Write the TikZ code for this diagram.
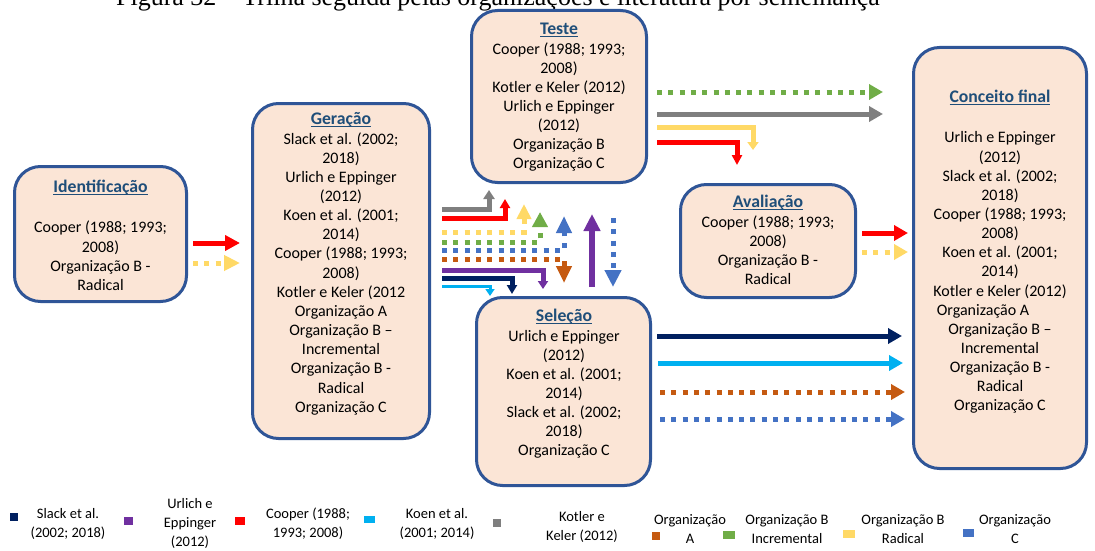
\documentclass[tikz,border=0pt]{standalone}
\usepackage{fontspec}
\setmainfont{Carlito}
\newfontfamily\capfont{Liberation Serif}
\usetikzlibrary{arrows.meta}

\definecolor{boxfill}{HTML}{FBE5D6}
\definecolor{boxline}{HTML}{2F5597}
\definecolor{titleblue}{HTML}{1F4E79}
\definecolor{cNavy}{HTML}{002060}
\definecolor{cPurple}{HTML}{7030A0}
\definecolor{cRed}{HTML}{FF0000}
\definecolor{cSky}{HTML}{00B0F0}
\definecolor{cGray}{HTML}{7F7F7F}
\definecolor{cOrange}{HTML}{C55A11}
\definecolor{cGreen}{HTML}{70AD47}
\definecolor{cYellow}{HTML}{FFD966}
\definecolor{cBlue}{HTML}{4472C4}

% stage title: bold, dark blue, with a rule just under the baseline
\newsavebox\titlebox
\newcommand\stagetitle[1]{{\fontsize{17.7}{19.15}\selectfont\bfseries\color{titleblue}\strut
  \sbox\titlebox{#1}\rlap{\rule[-2.4pt]{\wd\titlebox}{1.1pt}}\usebox\titlebox}}

\begin{document}
\begin{tikzpicture}[x=1pt,y=-1pt,
  stage/.style={draw=boxline, line width=3pt, fill=boxfill, rounded corners=26pt, inner sep=0pt},
  stagetext/.style={anchor=north, align=center, inner sep=0pt, font=\fontsize{16}{19.15}\selectfont},
  flow/.style={line width=5pt, line cap=butt, line join=miter},
  tip/.style 2 args={-{Triangle[length=#1pt,width=#2pt]}},
  dots/.style={dash pattern=on 5pt off 6.3pt},
  legtext/.style={align=center, inner sep=0pt, font=\fontsize{14.5}{19}\selectfont},
  key/.style={inner sep=0pt, minimum height=8pt},
]
\clip (0,0) rectangle (1095,551);

% caption, cut off by the page top
\node[anchor=base, inner sep=0pt, font=\capfont\fontsize{26}{30}\selectfont] (caption) at (498,6)
  {Figura 32 – Trilha seguida pelas organizações e literatura por semelhança};

% ---------- stages ----------
\node[stage, minimum width=172pt, minimum height=135pt] (ident) at (100.5,234) {};
\node[stage, minimum width=177pt, minimum height=335pt] (gen) at (341,271) {};
\node[stage, minimum width=175pt, minimum height=172pt] (teste) at (559,96.5) {};
\node[stage, minimum width=175pt, minimum height=113pt] (aval) at (768,241) {};
\node[stage, minimum width=174pt, minimum height=188pt] (sel) at (563.5,391.5) {};
\node[stage, minimum width=173pt, minimum height=421pt] (conc) at (1000,258) {};

\node[stagetext] (identtxt) at (100.5,179.3) {\stagetitle{Identificação}\\[20.8pt]
  Cooper (1988; 1993;\\ 2008)\\ Organização B -\\ Radical};
\node[stagetext] (gentxt) at (341,111.3) {\stagetitle{Geração}\\
  Slack et al. (2002;\\ 2018)\\ Urlich e Eppinger\\ (2012)\\ Koen et al. (2001;\\ 2014)\\
  Cooper (1988; 1993;\\ 2008)\\ Kotler e Keler (2012\\ Organização A\\ Organização B –\\
  Incremental\\ Organização B -\\ Radical\\ Organização C};
\node[stagetext] (testetxt) at (559,21.3) {\stagetitle{Teste}\\
  Cooper (1988; 1993;\\ 2008)\\ Kotler e Keler (2012)\\ Urlich e Eppinger\\ (2012)\\
  Organização B\\ Organização C};
\node[stagetext] (avaltxt) at (768,194.3) {\stagetitle{Avaliação}\\
  Cooper (1988; 1993;\\ 2008)\\ Organização B -\\ Radical};
\node[stagetext] (seltxt) at (564,308.3) {\stagetitle{Seleção}\\
  Urlich e Eppinger\\ (2012)\\ Koen et al. (2001;\\ 2014)\\ Slack et al. (2002;\\ 2018)\\
  Organização C};
\node[stagetext] (conctxt) at (1000,89.3) {\stagetitle{Conceito final}\\[20.8pt]
  Urlich e Eppinger\\ (2012)\\ Slack et al. (2002;\\ 2018)\\ Cooper (1988; 1993;\\ 2008)\\
  Koen et al. (2001;\\ 2014)\\ Kotler e Keler (2012)\\ Organização A\rule{34pt}{0pt}\\
  Organização B –\\ Incremental\\ Organização B -\\ Radical\\ Organização C};

% ---------- arrow end points ----------
% Identificação -> Geração
\coordinate (a1) at (193,243); \coordinate (b1) at (240,243);
\coordinate (a2) at (193,263); \coordinate (b2) at (240,263);
% Geração -> Teste / Seleção
\coordinate (g1) at (442,209); \coordinate (h1) at (489,190);
\coordinate (g2) at (442,218); \coordinate (h2) at (505,199);
\coordinate (g3) at (442,232); \coordinate (h3) at (524,204);
\coordinate (g4) at (442,242); \coordinate (h4) at (540,212);
\coordinate (g5) at (442,250); \coordinate (h5) at (564,216);
\coordinate (g6) at (442,259); \coordinate (h6) at (564,283);
\coordinate (g7) at (442,270); \coordinate (h7) at (543,289);
\coordinate (g8) at (442,278); \coordinate (h8) at (512,294);
\coordinate (g9) at (442,286); \coordinate (h9) at (490,296);
% Seleção <-> Teste
\coordinate (s1) at (592,287); \coordinate (t1) at (592,214);
\coordinate (t2) at (613,218); \coordinate (s2) at (613,287);
% Teste -> Conceito final
\coordinate (p1) at (657,92);  \coordinate (q1) at (883,92);
\coordinate (p2) at (657,114); \coordinate (q2) at (883,114);
\coordinate (p3) at (657,127); \coordinate (q3) at (753,150);
\coordinate (p4) at (657,142); \coordinate (q4) at (737,165);
% Avaliação -> Conceito final
\coordinate (v1) at (862,233); \coordinate (w1) at (908,233);
\coordinate (v2) at (862,252); \coordinate (w2) at (908,252);
% Seleção -> Conceito final
\coordinate (m1) at (657,336); \coordinate (n1) at (902,336);
\coordinate (m2) at (658,363); \coordinate (n2) at (903,363);
\coordinate (m3) at (660,392); \coordinate (n3) at (905,392);
\coordinate (m4) at (660,419); \coordinate (n4) at (905,419);

% ---------- arrows ----------
\draw[flow, cRed, tip={15}{15}] (a1) -- (b1);
\draw[flow, cYellow, dots, tip={16}{15}] (a2) -- (b2);

\draw[flow, cGray, tip={9}{11}] (g1) -| (h1);
\draw[flow, cRed, tip={9}{10}] (g2) -| (h2);
\draw[flow, cYellow, dots, tip={15}{14}] (g3) -| (h3);
\draw[flow, cGreen, dots, tip={15}{15}] (g4) -| (h4);
\draw[flow, cBlue, dots, tip={17}{15}] (g5) -| (h5);
\draw[flow, cOrange, dots, tip={17}{15}] (g6) -| (h6);
\draw[flow, cPurple, tip={8}{10}] (g7) -| (h7);
\draw[flow, cNavy, tip={9}{10}] (g8) -| (h8);
\draw[flow, cSky, line width=3pt, tip={7}{9}] (g9) -| (h9);

\draw[flow, cPurple, line width=6pt, tip={17}{16}] (s1) -- (t1);
\draw[flow, cBlue, dots, tip={17}{16}] (t2) -- (s2);

\draw[flow, cGreen, dots, tip={14}{15}] (p1) -- (q1);
\draw[flow, cGray, tip={14}{15}] (p2) -- (q2);
\draw[flow, cYellow, tip={8}{11}] (p3) -| (q3);
\draw[flow, cRed, tip={10}{10}] (p4) -| (q4);

\draw[flow, cRed, tip={14}{15}] (v1) -- (w1);
\draw[flow, cYellow, dots, tip={14}{15}] (v2) -- (w2);

\draw[flow, cNavy, tip={14}{15}] (m1) -- (n1);
\draw[flow, cSky, tip={14}{15}] (m2) -- (n2);
\draw[flow, cOrange, dots, tip={14}{15}] (m3) -- (n3);
\draw[flow, cBlue, dots, tip={14}{15}] (m4) -- (n4);

% ---------- legend ----------
\node[key, fill=cNavy, minimum width=8pt] (k1) at (14,517) {};
\node[legtext] (l1) at (68,524) {Slack et al.\\ (2002; 2018)};
\node[key, fill=cPurple, minimum width=9pt] (k2) at (128,521) {};
\node[legtext] (l2) at (190,523.5) {Urlich e\\ Eppinger\\ (2012)};
\node[key, fill=cRed, minimum width=10pt] (k3) at (240,521) {};
\node[legtext] (l3) at (308,524) {Cooper (1988;\\ 1993; 2008)};
\node[key, fill=cSky, minimum width=11pt, minimum height=7pt] (k4) at (369,519) {};
\node[legtext] (l4) at (437,524) {Koen et al.\\ (2001; 2014)};
\node[key, fill=cGray, minimum width=8pt] (k5) at (497,523) {};
\node[legtext] (l5) at (582,527) {Kotler e\\ Keler (2012)};
\node[key, fill=cOrange, minimum width=8pt] (k6) at (656,536) {};
\node[legtext] (l6) at (690,529.5) {Organização\\ A};
\node[key, fill=cGreen, minimum width=12pt] (k7) at (729,535) {};
\node[legtext] (l7) at (787,529.5) {Organização B\\ Incremental};
\node[key, fill=cYellow, minimum width=12pt] (k8) at (849,534) {};
\node[legtext] (l8) at (903,529.5) {Organização B\\ Radical};
\node[key, fill=cBlue, minimum width=11pt] (k9) at (968,533) {};
\node[legtext] (l9) at (1015,529.5) {Organização\\ C};
\end{tikzpicture}
\end{document}
